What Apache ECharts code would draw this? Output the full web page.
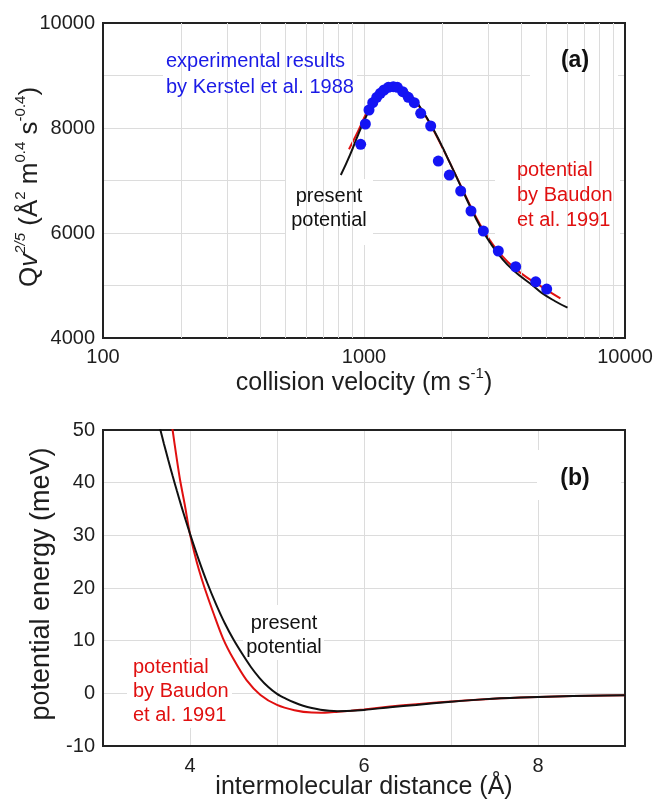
<!DOCTYPE html>
<html>
<head>
<meta charset="utf-8">
<script src="https://cdn.jsdelivr.net/npm/echarts@6/dist/echarts.min.js"></script>
<style>
html,body{margin:0;padding:0;background:#fff;}
#chart{width:654px;height:801px;}
</style>
</head>
<body>
<div id="chart"></div>
<script>
// ---- data: panel (a) ----
const expVelocity = [971,1012,1045,1080,1119,1155,1193,1240,1295,1342,1407,1478,1558,1649,1801,1926,2123,2347,2570,2865,3270,3812,4550,5012];
const expQ = [7689,8076,8343,8482,8584,8661,8724,8775,8787,8775,8692,8584,8482,8280,8038,7371,7104,6800,6419,6038,5657,5357,5071,4933];
const presentVelocity = [815,884,951,1024,1102,1186,1295,1374,1501,1639,1790,1955,2136,2333,2547,2783,3039,3319,3734,4455,4796,5400,6021];
const presentQ = [7104,7490,7880,8240,8530,8715,8800,8780,8640,8400,8090,7730,7330,6920,6510,6130,5820,5560,5290,4990,4860,4700,4577];
const baudonVelocity = [876,951,1024,1102,1186,1295,1374,1501,1639,1790,1955,2136,2333,2547,2783,3039,3319,3734,4455,4796,5200,5655];
const baudonQ = [7594,7950,8290,8555,8730,8800,8775,8630,8390,8080,7720,7330,6930,6530,6160,5860,5610,5350,5070,4975,4865,4755];
const velocityMinorGrid = [200,300,400,500,600,700,800,900,2000,3000,4000,5000,6000,7000,8000,9000];

// ---- data: panel (b) ----
const presentR = [3.62,3.66,3.70,3.75,3.80,3.85,3.90,3.95,4.00,4.10,4.20,4.30,4.40,4.50,4.60,4.70,4.80,4.90,5.00,5.10,5.20,5.30,5.40,5.50,5.60,5.70,5.80,6.00,6.30,6.60,7.00,7.40,7.80,8.20,8.60,9.00];
const presentE = [52.6,50.0,47.4,44.3,41.3,38.4,35.6,32.9,30.3,25.4,20.9,16.9,13.3,10.2,7.5,5.0,2.9,1.2,-0.1,-1.0,-1.75,-2.35,-2.8,-3.1,-3.3,-3.38,-3.35,-3.15,-2.65,-2.2,-1.6,-1.1,-0.8,-0.6,-0.45,-0.35];
const baudonR = [3.77,3.80,3.84,3.885,3.94,3.995,4.05,4.10,4.17,4.27,4.38,4.50,4.65,4.81,5.00,5.20,5.40,5.55,5.70,5.85,6.00,6.30,6.60,7.00,7.40,7.80,8.20,8.60,9.00];
const baudonE = [53.5,50.0,45.4,40.6,35.8,30.6,26.7,23.6,19.9,15.2,10.4,6.5,2.5,-0.3,-2.2,-3.2,-3.65,-3.68,-3.5,-3.3,-3.05,-2.5,-2.05,-1.55,-1.1,-0.8,-0.6,-0.45,-0.35];

const FONT = 'Liberation Sans, Arial, sans-serif';
const zip = (a, b) => a.map((v, i) => [v, b[i]]);
const gridColor = '#dcdcdc';
const textColor = '#1e1e1e';

const chart = echarts.init(document.getElementById('chart'), null, {renderer: 'canvas'});

function whiteRect(x, y, w, h) {
  return {type: 'rect', z: 1, silent: true, shape: {x: x, y: y, width: w, height: h}, style: {fill: '#fff'}};
}
function label(x, y, text, color, opts) {
  return {
    type: 'text', z: 10, silent: true, x: x, y: y,
    style: Object.assign({text: text, fill: color, font: '20px ' + FONT, align: 'left', verticalAlign: 'middle', lineHeight: 25}, opts || {})
  };
}

const option = {
  animation: false,
  backgroundColor: '#fff',
  grid: [
    {left: 103, top: 23, width: 522, height: 315, show: true, borderColor: '#222', borderWidth: 2, backgroundColor: 'transparent', z: 3, containLabel: false, outerBoundsMode: 'none'},
    {left: 103, top: 430, width: 522, height: 316, show: true, borderColor: '#222', borderWidth: 2, backgroundColor: 'transparent', z: 3, containLabel: false, outerBoundsMode: 'none'}
  ],
  xAxis: [
    {type: 'log', logBase: 10, min: 100, max: 10000, gridIndex: 0,
     axisLine: {show: false}, axisTick: {show: false},
     axisLabel: {color: textColor, fontSize: 20, fontFamily: FONT, margin: 9, formatter: v => String(Math.round(v))},
     splitLine: {show: true, lineStyle: {color: gridColor, width: 1}}},
    {type: 'value', min: 3, max: 9, interval: 1, gridIndex: 1,
     axisLine: {show: false}, axisTick: {show: false},
     axisLabel: {color: textColor, fontSize: 20, fontFamily: FONT, margin: 10,
       formatter: v => (Math.round(v) % 2 === 0 ? String(v) : '')},
     splitLine: {show: true, lineStyle: {color: gridColor, width: 1}}}
  ],
  yAxis: [
    {type: 'value', min: 4000, max: 10000, interval: 1000, gridIndex: 0,
     axisLine: {show: false}, axisTick: {show: false},
     axisLabel: {color: textColor, fontSize: 20, fontFamily: FONT, margin: 8,
       formatter: v => (v % 2000 === 0 ? String(v) : '')},
     splitLine: {show: true, lineStyle: {color: gridColor, width: 1}}},
    {type: 'value', min: -10, max: 50, interval: 10, gridIndex: 1,
     axisLine: {show: false}, axisTick: {show: false},
     axisLabel: {color: textColor, fontSize: 20, fontFamily: FONT, margin: 8},
     splitLine: {show: true, lineStyle: {color: gridColor, width: 1}}}
  ],
  series: [
    {type: 'line', xAxisIndex: 0, yAxisIndex: 0, data: [], z: 0, silent: true,
     markLine: {silent: true, symbol: ['none', 'none'], label: {show: false}, animation: false,
       lineStyle: {color: gridColor, width: 1, type: 'solid'},
       data: velocityMinorGrid.map(v => ({xAxis: v}))}},
    {name: 'Baudon (a)', type: 'line', xAxisIndex: 0, yAxisIndex: 0, data: zip(baudonVelocity, baudonQ),
     showSymbol: false, smooth: 0.5, lineStyle: {color: '#e01010', width: 2}, z: 4},
    {name: 'present (a)', type: 'line', xAxisIndex: 0, yAxisIndex: 0, data: zip(presentVelocity, presentQ),
     showSymbol: false, smooth: 0.5, lineStyle: {color: '#111', width: 2}, z: 5},
    {name: 'experiment', type: 'scatter', xAxisIndex: 0, yAxisIndex: 0, data: zip(expVelocity, expQ),
     symbol: 'circle', symbolSize: 11, itemStyle: {color: '#1414f4', opacity: 1}, z: 6},
    {name: 'Baudon (b)', type: 'line', xAxisIndex: 1, yAxisIndex: 1, data: zip(baudonR, baudonE),
     showSymbol: false, smooth: 0.3, lineStyle: {color: '#e01010', width: 2}, z: 4, clip: true},
    {name: 'present (b)', type: 'line', xAxisIndex: 1, yAxisIndex: 1, data: zip(presentR, presentE),
     showSymbol: false, smooth: 0.3, lineStyle: {color: '#111', width: 2}, z: 5, clip: true}
  ],
  graphic: [
    // white boxes behind annotations
    whiteRect(163, 38, 194, 64),
    whiteRect(530, 36, 88, 45),
    whiteRect(285, 179, 88, 66),
    whiteRect(495, 155, 125, 85),
    whiteRect(537, 450, 84, 50),
    whiteRect(243, 605, 81, 55),
    whiteRect(127, 655, 105, 73),
    // annotations panel (a)
    label(166, 74, 'experimental results\nby Kerstel et al. 1988', '#1a1ae6', {lineHeight: 26}),
    label(575, 61, '(a)', '#111', {font: 'bold 23px ' + FONT, align: 'center'}),
    label(329, 208, 'present\npotential', '#111', {align: 'center', lineHeight: 24}),
    label(517, 195, 'potential\nby Baudon\net al. 1991', '#e01010', {lineHeight: 25}),
    // annotations panel (b)
    label(575, 479, '(b)', '#111', {font: 'bold 23px ' + FONT, align: 'center'}),
    label(284, 635, 'present\npotential', '#111', {align: 'center', lineHeight: 24}),
    label(133, 691, 'potential\nby Baudon\net al. 1991', '#e01010', {lineHeight: 24}),
    // axis titles
    {type: 'text', z: 10, silent: true, x: 30, y: 187, rotation: Math.PI / 2,
     style: {text: '{n|Q}{i|v}{si|2/5}{n| (Å}{s|2}{n| m}{s|0.4}{n| s}{s|-0.4}{n|)}',
       align: 'center', verticalAlign: 'middle',
       rich: {
         n: {fontSize: 26, fontFamily: FONT, fill: textColor, lineHeight: 34},
         i: {fontSize: 26, fontFamily: FONT, fontStyle: 'italic', fill: textColor, lineHeight: 34},
         s: {fontSize: 15, fontFamily: FONT, fill: textColor, lineHeight: 12, verticalAlign: 'top'},
         si: {fontSize: 15, fontFamily: FONT, fontStyle: 'italic', fill: textColor, lineHeight: 12, verticalAlign: 'top'}
       }}},
    {type: 'text', z: 10, silent: true, x: 364, y: 383,
     style: {text: '{n|collision velocity (m s}{s|-1}{n|)}', align: 'center', verticalAlign: 'middle',
       rich: {
         n: {fontSize: 25, fontFamily: FONT, fill: textColor, lineHeight: 34},
         s: {fontSize: 15, fontFamily: FONT, fill: textColor, lineHeight: 12, verticalAlign: 'top'}
       }}},
    {type: 'text', z: 10, silent: true, x: 42, y: 584, rotation: Math.PI / 2,
     style: {text: 'potential energy (meV)', fill: textColor, font: '27px ' + FONT, align: 'center', verticalAlign: 'middle'}},
    {type: 'text', z: 10, silent: true, x: 364, y: 787,
     style: {text: 'intermolecular distance (Å)', fill: textColor, font: '25px ' + FONT, align: 'center', verticalAlign: 'middle'}}
  ]
};
chart.setOption(option);
</script>
</body>
</html>
